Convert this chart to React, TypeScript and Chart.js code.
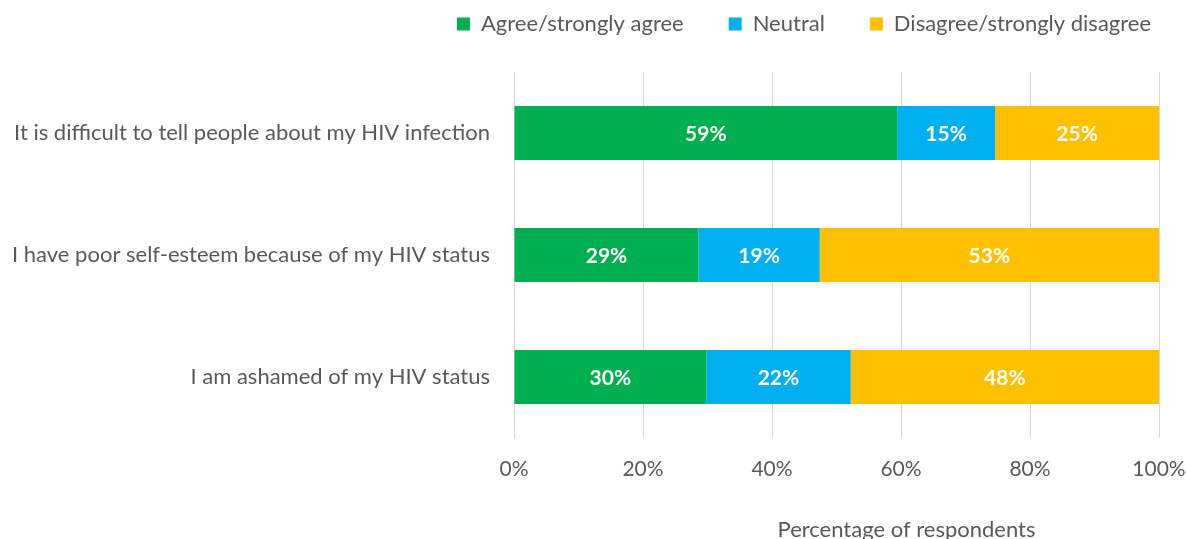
import { useEffect, useRef } from "react";
import { Chart, registerables } from "chart.js";

Chart.register(...registerables);

const categories = [
  "It is difficult to tell people about my HIV infection",
  "I have poor self-esteem because of my HIV status",
  "I am ashamed of my HIV status",
];
const seriesNames = ["Agree/strongly agree", "Neutral", "Disagree/strongly disagree"];
const agreeValues = [59.4, 28.6, 29.8];
const neutralValues = [15.2, 18.8, 22.4];
const disagreeValues = [25.4, 52.6, 47.8];
const xTickValues = [0, 20, 40, 60, 80, 100];
const xAxisTitle = "Percentage of respondents";

const FONT = "Lato";
const TEXT_COLOR = "#595959";
const GRID_COLOR = "#D9D9D9";
const COLORS = ["#00B050", "#00B0F0", "#FFC000"];

export default function App() {
  const ref = useRef<HTMLCanvasElement>(null);

  useEffect(() => {
    if (!ref.current) return;
    const prevMargin = document.body.style.margin;
    document.body.style.margin = "0";

    const dataLabels = {
      id: "dataLabels",
      afterDatasetsDraw(chart: any) {
        const ctx = chart.ctx;
        ctx.save();
        ctx.font = `bold 21px ${FONT}`;
        ctx.fillStyle = "#FFFFFF";
        ctx.textAlign = "center";
        ctx.textBaseline = "middle";
        chart.data.datasets.forEach((ds: any, i: number) => {
          const meta = chart.getDatasetMeta(i);
          meta.data.forEach((bar: any, j: number) => {
            const p = bar.getProps(["x", "y", "base"], true);
            const cx = (p.x + p.base) / 2;
            ctx.fillText(Math.round(ds.data[j]) + "%", cx, p.y + 1);
          });
        });
        ctx.restore();
      },
    };

    const axisTitle = {
      id: "axisTitle",
      afterDraw(chart: any) {
        const { ctx, chartArea } = chart;
        ctx.save();
        ctx.font = `22px ${FONT}`;
        ctx.fillStyle = TEXT_COLOR;
        ctx.textAlign = "center";
        ctx.textBaseline = "alphabetic";
        ctx.fillText(xAxisTitle, (chartArea.left + chartArea.right) / 2 + 70, 529);
        ctx.restore();
      },
    };

    const legendShift = {
      id: "legendShift",
      afterLayout(chart: any) {
        const lg = chart.legend;
        if (!lg) return;
        const shift = 796 - (lg.left + lg.right) / 2;
        lg.left += shift;
        lg.right += shift;
      },
    };

    const chart = new Chart(ref.current, {
      type: "bar",
      data: {
        labels: categories,
        datasets: [
          { label: seriesNames[0], data: agreeValues, backgroundColor: COLORS[0] },
          { label: seriesNames[1], data: neutralValues, backgroundColor: COLORS[1] },
          { label: seriesNames[2], data: disagreeValues, backgroundColor: COLORS[2] },
        ],
      },
      options: {
        indexAxis: "y",
        responsive: true,
        maintainAspectRatio: false,
        animation: false,
        datasets: {
          bar: { categoryPercentage: 0.49, barPercentage: 0.9, borderWidth: 0 },
        },
        layout: { padding: { top: -40, left: 0, right: 27, bottom: 0 } },
        scales: {
          x: {
            stacked: true,
            min: 0,
            max: 100,
            afterBuildTicks: (s: any) => {
              s.ticks = xTickValues.map((v) => ({ value: v }));
            },
            afterFit: (s: any) => {
              s.height = 101;
              s.paddingRight = 27;
            },
            ticks: {
              callback: (v: any) => v + "%",
              color: TEXT_COLOR,
              font: { family: FONT, size: 21 },
              padding: 19,
              maxRotation: 0,
            },
            grid: { color: GRID_COLOR, lineWidth: 1, drawTicks: false },
            border: { display: false },
          },
          y: {
            stacked: true,
            afterFit: (s: any) => {
              s.width = 506;
            },
            ticks: {
              color: TEXT_COLOR,
              font: { family: FONT, size: 22 },
              padding: 24,
            },
            grid: { display: false, drawTicks: false },
            border: { display: true, color: GRID_COLOR, width: 1 },
          },
        },
        plugins: {
          legend: {
            position: "top",
            align: "center",
            labels: {
              boxWidth: 13,
              boxHeight: 13,
              padding: 45,
              color: TEXT_COLOR,
              font: { family: FONT, size: 22 },
            },
          },
          title: {
            display: true,
            text: "",
            weight: 500,
            padding: { top: 0, bottom: 15 },
            font: { size: 10 },
          },
          tooltip: { enabled: false },
        },
      },
      plugins: [dataLabels, axisTitle, legendShift],
    } as any);

    return () => {
      chart.destroy();
      document.body.style.margin = prevMargin;
    };
  }, []);

  return (
    <div
      style={{
        paddingTop: 8,
        paddingLeft: 8,
        width: 1186,
        height: 539,
        boxSizing: "border-box",
        overflow: "hidden",
      }}
    >
      <div style={{ position: "relative", width: 1178, height: 531 }}>
        <canvas ref={ref} />
      </div>
    </div>
  );
}
